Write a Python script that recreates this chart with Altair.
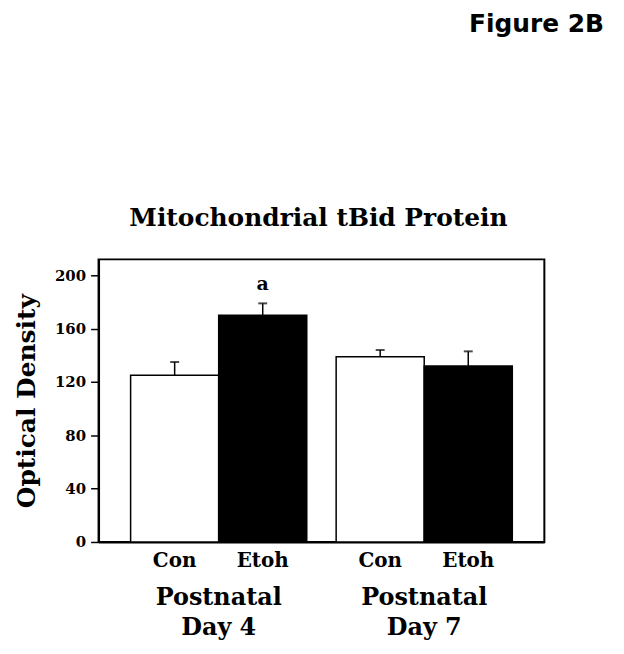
import altair as alt
import pandas as pd

groups = ["Postnatal|Day 4", "Postnatal|Day 4", "Postnatal|Day 7", "Postnatal|Day 7"]
treatments = ["Con", "Etoh", "Con", "Etoh"]
means = [125, 170, 139, 132]
sems = [10, 9, 5, 11]
sig = ["", "a", "", ""]
y_ticks = [0, 20, 40, 60, 80, 100, 120, 140, 160, 180, 200]

df = pd.DataFrame({
    "group": groups,
    "treatment": treatments,
    "mean": means,
    "sem": sems,
    "sig": sig,
})
df["upper"] = df["mean"] + df["sem"]

SERIF = "DejaVu Serif"

x_enc = alt.X(
    "group:N",
    sort=None,
    scale=alt.Scale(paddingInner=0.143, paddingOuter=0.156),
    axis=alt.Axis(
        title=None,
        ticks=False,
        labelExpr="split(datum.label, '|')",
        labelFont=SERIF,
        labelFontSize=24,
        labelFontWeight="bold",
        labelColor="black",
        labelPadding=44,
        labelLineHeight=30,
        labelBaseline="top",
        labelAngle=0,
        domainColor="black",
        domainWidth=2,
    ),
)
xo_enc = alt.XOffset("treatment:N", sort=["Con", "Etoh"])

y_scale = alt.Scale(domain=[0, 212], nice=False, zero=True)
y_enc = alt.Y(
    "mean:Q",
    scale=y_scale,
    axis=alt.Axis(
        title="Optical Density",
        values=y_ticks,
        labelExpr="datum.value % 40 == 0 ? datum.label : ''",
        grid=False,
        tickSize=8,
        tickWidth=1.5,
        tickColor="black",
        domainColor="black",
        domainWidth=2,
        labelFont=SERIF,
        labelFontSize=15,
        labelFontWeight="bold",
        labelColor="black",
        labelPadding=5,
        titleFont=SERIF,
        titleFontSize=25,
        titleFontWeight="bold",
        titleColor="black",
        titleX=-64,
        titleY=142,
        titleAlign="center",
        titleBaseline="alphabetic",
        titleAngle=270,
    ),
)

base = alt.Chart(df)

bars = base.mark_bar(stroke="black", strokeWidth=1.5).encode(
    x=x_enc,
    xOffset=xo_enc,
    y=y_enc,
    color=alt.Color(
        "treatment:N",
        scale=alt.Scale(domain=["Con", "Etoh"], range=["white", "black"]),
        legend=None,
    ),
)

err = base.mark_rule(color="black", strokeWidth=1.5).encode(
    x=alt.X("group:N", sort=None),
    xOffset=xo_enc,
    y=alt.Y("mean:Q", scale=y_scale),
    y2="upper:Q",
)

caps = base.mark_tick(color="black", size=9, thickness=2).encode(
    x=alt.X("group:N", sort=None),
    xOffset=xo_enc,
    y=alt.Y("upper:Q", scale=y_scale),
)

sig_text = base.mark_text(
    font=SERIF, fontSize=19, fontWeight="bold", color="black",
    baseline="alphabetic", dy=-13,
).encode(
    x=alt.X("group:N", sort=None),
    xOffset=xo_enc,
    y=alt.Y("upper:Q", scale=y_scale),
    text="sig:N",
)

cat_text = base.mark_text(
    font=SERIF, fontSize=20, fontWeight="bold", color="black",
    baseline="alphabetic",
).encode(
    x=alt.X("group:N", sort=None),
    xOffset=xo_enc,
    y=alt.value(309),
    text="treatment:N",
)

main_title = alt.Chart(pd.DataFrame({"t": ["Mitochondrial tBid Protein"]})).mark_text(
    font=SERIF, fontSize=25, fontWeight="bold", color="black",
    align="center", baseline="alphabetic",
).encode(
    x=alt.value(221),
    y=alt.value(-34),
    text="t:N",
)

chart = alt.layer(bars, err, caps, sig_text, cat_text, main_title).properties(
    width=448,
    height=284,
    title=alt.TitleParams(
        "Figure 2B",
        font="DejaVu Sans",
        fontSize=25,
        fontWeight="bold",
        color="black",
        anchor="end",
        frame="group",
        baseline="alphabetic",
        offset=150,
        dx=60,
    ),
    autosize=alt.AutoSizeParams(type="none"),
    padding={"left": 91, "top": 251, "right": 72, "bottom": 120},
).configure_view(
    stroke="black",
    strokeWidth=2,
)

chart.save("out.html", embed_options={"renderer": "svg", "actions": False})
